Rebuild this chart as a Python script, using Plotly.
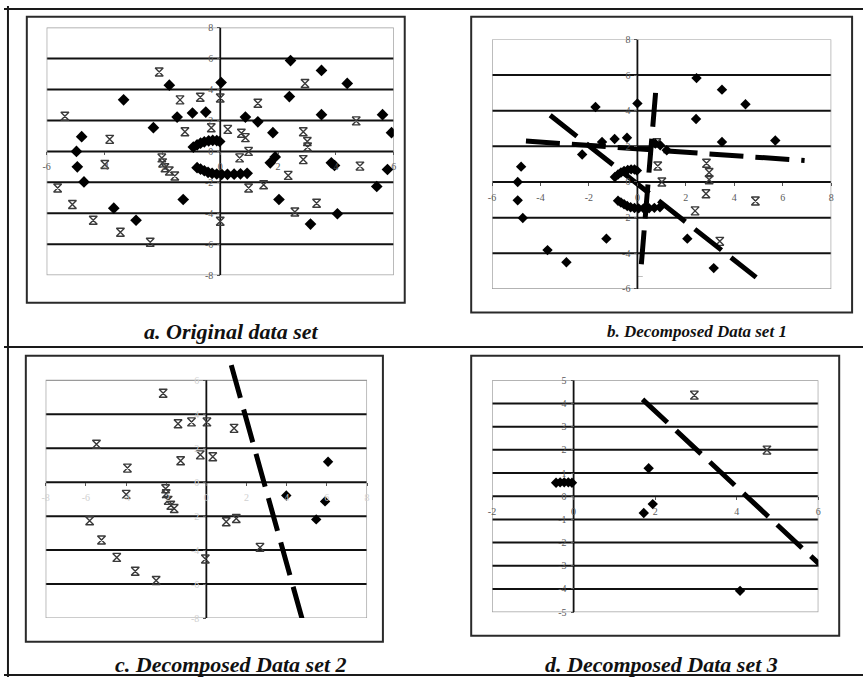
import plotly.graph_objects as go

W, H = 866, 683

# ---------------- data ----------------
# panel a : original data set
arc_up_x = [-0.93, -0.80, -0.68, -0.55, -0.40, -0.26, -0.12, -0.02]
arc_up_y = [0.28, 0.42, 0.53, 0.62, 0.68, 0.71, 0.70, 0.64]
arc_lo_x = [-0.80, -0.68, -0.55, -0.42, -0.28, -0.12, 0.05, 0.25, 0.48, 0.70, 0.93]
arc_lo_y = [-1.05, -1.15, -1.25, -1.35, -1.42, -1.46, -1.48, -1.48, -1.47, -1.45, -1.42]

a_dia_x = [-1.76, 0.03, -3.34, -1.49, -0.96, -0.50, -2.31, -4.79, -4.97, -4.94, -4.71, -1.28, -3.68, -2.91,
           2.43, 3.50, 4.39, 2.39, 0.87, 1.30, 3.50, 5.61, 1.82, 5.92, 1.90, 1.73, 3.84, 3.95, 5.78, 5.41,
           2.03, 4.05, 3.12]
a_dia_y = [4.28, 4.45, 3.33, 2.22, 2.48, 2.54, 1.53, 0.95, 0.00, -1.00, -1.97, -3.11, -3.67, -4.45,
           5.87, 5.23, 4.39, 3.54, 2.22, 1.91, 2.37, 2.37, 1.21, 1.21, -0.36, -0.74, -0.74, -0.91, -1.17, -2.27,
           -3.11, -4.03, -4.70]
a_star_x = [-2.11, -1.39, -0.69, 0.00, -5.37, -1.22, -0.31, 0.26, -3.82, -2.02, -1.99, -1.91, -1.76, -1.57,
            -3.99, -5.62, -5.11, -4.39, -3.45, -2.42, 0.00,
            2.93, 1.30, 4.70, 0.73, 0.87, 2.87, 3.01, 3.02, 2.87, 0.98, 0.67, 4.83, 2.35, 0.98, 1.50, 3.33, 2.58]
a_star_y = [5.13, 3.33, 3.50, 3.45, 2.27, 1.27, 1.53, 1.42, 0.78, -0.42, -0.74, -1.06, -1.27, -1.59,
            -0.85, -2.37, -3.43, -4.45, -5.23, -5.87, -4.51,
            4.39, 3.11, 1.97, 1.17, 0.89, 1.27, 0.64, 0.28, -0.53, 0.00, -0.42, -0.95, -1.55, -2.37, -2.16, -3.35, -3.92]
a_xticks = [-6, -4, -2, 0, 2, 4, 6]
a_yticks = [-8, -6, -4, -2, 0, 2, 4, 6, 8]

# panel b : decomposed data set 1
b_dia_x = [-1.73, 0.00, -0.94, -0.43, -1.46, -2.28, -4.80, -4.94, -4.94, -4.73, -1.28, -3.71, -2.93,
           2.44, 3.49, 4.46, 2.42, 3.49, 5.69, 2.06, 3.15, 0.74, 0.94, 1.21]
b_dia_y = [4.21, 4.41, 2.41, 2.48, 2.24, 1.54, 0.86, 0.00, -1.03, -2.02, -3.18, -3.82, -4.50,
           5.83, 5.18, 4.36, 3.53, 2.24, 2.33, -3.18, -4.83, 2.15, 2.06, 1.78]
b_star_x = [0.84, 1.01, 2.85, 2.96, 2.96, 2.83, 4.87, 2.38, 3.40, 0.80]
b_star_y = [0.90, 0.00, 1.05, 0.53, 0.13, -0.66, -1.07, -1.62, -3.33, 2.20]
b_line1_x = [-4.6, 6.9]
b_line1_y = [2.3, 1.2]
b_line2_x = [-3.6, 4.9]
b_line2_y = [3.74, -5.35]
b_line3_x = [0.75, 0.12]
b_line3_y = [5.0, -5.3]
b_xticks = [-6, -4, -2, 0, 2, 4, 6, 8]
b_yticks = [-6, -4, -2, 0, 2, 4, 6, 8]

# panel c : decomposed data set 2
c_star_x = [-2.15, -1.41, -0.74, 0.03, 1.38, -5.47, -3.93, -1.28, -0.30, 0.32, -3.99, -2.03, -2.00, -1.90,
            -1.77, -1.60, -5.81, -5.22, -4.46, -3.54, -2.50, -0.05, 0.99, 1.49, 2.67]
c_star_y = [5.24, 3.44, 3.55, 3.55, 3.17, 2.23, 0.83, 1.26, 1.61, 1.50, -0.72, -0.39, -0.68, -1.07,
            -1.36, -1.55, -2.27, -3.40, -4.43, -5.24, -5.79, -4.52, -2.33, -2.14, -3.84]
c_dia_x = [6.06, 3.98, 5.91, 5.47]
c_dia_y = [1.20, -0.78, -1.13, -2.19]
c_line_x = [1.24, 4.77]
c_line_y = [6.89, -8.06]
c_xticks = [-8, -6, -4, -2, 0, 2, 4, 6, 8]
c_yticks = [-8, -6, -4, -2, 0, 2, 4, 6]

# panel d : decomposed data set 3
d_dia_x = [1.84, 1.72, 1.94, 4.08, -0.43, -0.33, -0.23, -0.13, -0.04]
d_dia_y = [1.21, -0.72, -0.34, -4.08, 0.58, 0.60, 0.60, 0.60, 0.58]
d_star_x = [2.96, 4.74]
d_star_y = [4.36, 1.99]
d_line_x = [1.69, 6.05]
d_line_y = [4.18, -2.97]
d_xticks = [-2, 0, 2, 4, 6]
d_yticks = [-5, -4, -3, -2, -1, 0, 1, 2, 3, 4, 5]

captions = ["a. Original data set", "b. Decomposed Data set 1",
            "c. Decomposed Data set 2", "d. Decomposed Data set 3"]

# ---------------- layout helpers ----------------
def fx(px):
    return px / W


def fy(py):
    return 1 - py / H


fig = go.Figure()
shapes = []
annotations = []
layout_axes = {}

STAR = dict(symbol="hourglass-open", size=8, color="#3a3a3a", line=dict(width=1.4, color="#3a3a3a"))
DASH = "34px,12px"


def add_panel(n, xr, yr, box, xt, yt, tick_color, ext_top=0.0):
    x0p, y0p, x1p, y1p = box  # plot area in pixels (left, top, right, bottom)
    ppu_y = (y1p - y0p) / (yr[1] - yr[0])
    ppu_x = (x1p - x0p) / (xr[1] - xr[0])
    top_px = y0p - ext_top * ppu_y
    xa = "x" if n == 1 else f"x{n}"
    ya = "y" if n == 1 else f"y{n}"
    xk = "xaxis" if n == 1 else f"xaxis{n}"
    yk = "yaxis" if n == 1 else f"yaxis{n}"
    zero_py = y1p - (0 - yr[0]) * ppu_y
    zero_px = x0p + (0 - xr[0]) * ppu_x
    tfont = dict(family="Liberation Serif", size=10, color=tick_color)
    layout_axes[xk] = dict(
        domain=[fx(x0p), fx(x1p)], range=list(xr), anchor="free", position=fy(zero_py),
        showgrid=False, zeroline=False, showline=False,
        tickmode="array", tickvals=xt, ticktext=[str(v) for v in xt],
        ticks="outside", ticklen=3, tickwidth=1, tickcolor="#555",
        tickfont=tfont, ticklabelstandoff=3, fixedrange=True,
    )
    layout_axes[yk] = dict(
        domain=[fy(y1p), fy(top_px)], range=[yr[0], yr[1] + ext_top], anchor="free", position=fx(zero_px),
        showgrid=False, zeroline=False, showline=False,
        tickmode="array", tickvals=yt, ticktext=[str(v) for v in yt],
        ticks="outside", ticklen=3, tickwidth=1, tickcolor="#555",
        tickfont=tfont, ticklabelstandoff=2, fixedrange=True,
    )
    # horizontal gridlines (inner ticks)
    for v in yt:
        if yr[0] < v < yr[1]:
            shapes.append(dict(type="line", xref=xa, yref=ya, x0=xr[0], x1=xr[1], y0=v, y1=v,
                               line=dict(color="#111111", width=2), layer="below"))
    # plot-area border
    shapes.append(dict(type="rect", xref=xa, yref=ya, x0=xr[0], x1=xr[1], y0=yr[0], y1=yr[1],
                       line=dict(color="#9a9a9a", width=1.3), layer="below"))
    # vertical axis line
    shapes.append(dict(type="line", xref=xa, yref=ya, x0=0, x1=0, y0=yr[0], y1=yr[1],
                       line=dict(color="#111111", width=1.8), layer="below"))
    return xa, ya


def add_points(xa, ya, sx, sy, dx, dy, dsize):
    if sx:
        fig.add_trace(go.Scatter(x=sx, y=sy, mode="markers", marker=STAR, xaxis=xa, yaxis=ya,
                                 showlegend=False, hoverinfo="skip"))
    if dx:
        fig.add_trace(go.Scatter(x=dx, y=dy, mode="markers",
                                 marker=dict(symbol="diamond", size=dsize, color="black"),
                                 xaxis=xa, yaxis=ya, showlegend=False, hoverinfo="skip"))


def add_dash_line(xa, ya, lx, ly):
    fig.add_trace(go.Scatter(x=lx, y=ly, mode="lines", line=dict(color="black", width=5, dash=DASH),
                             xaxis=xa, yaxis=ya, showlegend=False, hoverinfo="skip"))


# panel a
xa, ya = add_panel(1, (-6, 6), (-8, 8), (43, 22, 393, 274), a_xticks, a_yticks, "#5a5a5a")
add_points(xa, ya, a_star_x, a_star_y,
           a_dia_x + arc_up_x + arc_lo_x, a_dia_y + arc_up_y + arc_lo_y, 9)

# panel b
xa, ya = add_panel(2, (-6, 8), (-6, 8), (492, 34, 834, 288), b_xticks, b_yticks, "#5a5a5a")
add_points(xa, ya, b_star_x, b_star_y,
           b_dia_x + arc_up_x + arc_lo_x, b_dia_y + arc_up_y + arc_lo_y, 8)
add_dash_line(xa, ya, b_line1_x, b_line1_y)
add_dash_line(xa, ya, b_line2_x, b_line2_y)
add_dash_line(xa, ya, b_line3_x, b_line3_y)

# panel c
xa, ya = add_panel(3, (-8, 8), (-8, 6), (42, 381, 366, 623), c_xticks, c_yticks, "#d0d0d0", ext_top=1.0)
add_points(xa, ya, c_star_x, c_star_y, c_dia_x, c_dia_y, 8)
add_dash_line(xa, ya, c_line_x, c_line_y)

# panel d
xa, ya = add_panel(4, (-2, 6), (-5, 5), (492, 381, 821, 617), d_xticks, d_yticks, "#5a5a5a")
add_points(xa, ya, d_star_x, d_star_y, d_dia_x, d_dia_y, 8)
add_dash_line(xa, ya, d_line_x, d_line_y)

# chart frames (pixels: left, top, right, bottom)
frames = [(23, 11, 404, 302), (471, 11, 855, 312), (22, 356, 382, 647), (471, 356, 842, 641)]
for (l, t, r, b) in frames:
    shapes.append(dict(type="rect", xref="paper", yref="paper", x0=fx(l), x1=fx(r), y0=fy(b), y1=fy(t),
                       line=dict(color="#2a2a2a", width=2)))

# figure borders and divider
for (x0, y0, x1, y1) in [(0, 3, 866, 3), (4, 0, 4, 683), (0, 681, 866, 681), (0, 347, 866, 347)]:
    shapes.append(dict(type="line", xref="paper", yref="paper", x0=fx(x0), x1=fx(x1), y0=fy(y0), y1=fy(y1),
                       line=dict(color="#1a1a1a", width=2)))

# captions
cap_pos = [(229, 331, 22), (699, 331, 17), (229, 670, 22), (663, 670, 22)]
for text, (cx, cy, fs) in zip(captions, cap_pos):
    annotations.append(dict(text=f"<b><i>{text}</i></b>", x=fx(cx), y=fy(cy), xref="paper", yref="paper",
                            xanchor="center", yanchor="middle", showarrow=False,
                            font=dict(family="Liberation Serif", size=fs, color="#111")))

fig.update_layout(
    width=W, height=H, margin=dict(l=0, r=0, t=0, b=0),
    paper_bgcolor="white", plot_bgcolor="white",
    shapes=shapes, annotations=annotations, showlegend=False,
    **layout_axes,
)

fig.write_html("out.html", config={"displayModeBar": False},
               post_script="document.body.style.margin='0px';document.body.style.overflow='hidden';")
